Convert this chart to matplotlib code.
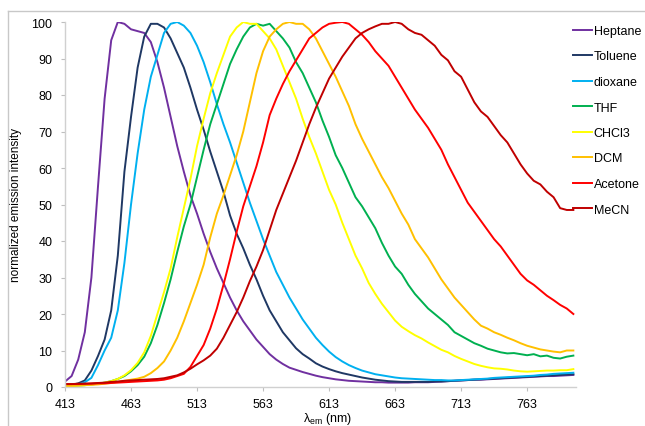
import numpy as np
import matplotlib
matplotlib.use("Agg")
import matplotlib.pyplot as plt
from matplotlib.lines import Line2D

plt.rcParams['font.family'] = ['Liberation Sans', 'DejaVu Sans']

# emission wavelength grid (nm), 413..798 every 5 nm
wl = np.arange(413, 799, 5)

heptane = [1.5, 3, 7.5, 15, 30, 55, 79, 95, 100, 99.5,
           98, 97.5, 97, 94.5, 89, 82, 74, 66, 59, 52.5,
           47.5, 42, 37, 32.5, 28.5, 24.5, 21, 18, 15.5, 13,
           11, 9, 7.5, 6.3, 5.3, 4.7, 4.1, 3.6, 3.1, 2.7,
           2.4, 2.1, 1.9, 1.7, 1.6, 1.5, 1.4, 1.3, 1.3, 1.2,
           1.2, 1.2, 1.2, 1.3, 1.3, 1.3, 1.4, 1.5, 1.6, 1.7,
           1.8, 1.9, 2.0, 2.0, 2.1, 2.2, 2.3, 2.4, 2.5, 2.6,
           2.7, 2.8, 2.9, 3.0, 3.0, 3.1, 3.2, 3.3]
toluene = [0.5, 0.6, 1.0, 1.8, 4.5, 8.5, 13, 21, 36, 59,
           74, 87.5, 96, 99.5, 99.5, 98.5, 95.5, 91.5, 87.5, 82,
           76, 70.5, 64.5, 59, 53.5, 47, 42, 38, 33.5, 29.5,
           25, 21, 18, 15, 12.8, 10.6, 9, 7.8, 6.5, 5.6,
           4.9, 4.3, 3.8, 3.4, 3.0, 2.6, 2.3, 2.0, 1.8, 1.6,
           1.5, 1.4, 1.4, 1.4, 1.4, 1.4, 1.5, 1.5, 1.6, 1.7,
           1.8, 1.9, 2.0, 2.1, 2.2, 2.3, 2.4, 2.5, 2.6, 2.7,
           2.8, 2.9, 3.0, 3.1, 3.2, 3.3, 3.4, 3.5]
dioxane = [0.5, 0.5, 0.7, 1.3, 2.5, 6, 10, 13.5, 21, 34,
           50, 64, 76, 85, 91, 97, 99.5, 100, 99, 97,
           93.5, 89, 83.5, 77.5, 72, 67, 61.5, 56, 50.5, 45.5,
           40.5, 36, 31.5, 28, 24.5, 21.5, 18.5, 16, 13.5, 11.5,
           9.7, 8.2, 7, 6, 5.2, 4.5, 4, 3.5, 3.2, 2.9,
           2.6, 2.4, 2.3, 2.2, 2.1, 2.0, 1.9, 1.9, 1.8, 1.8,
           1.9, 2.0, 2.1, 2.2, 2.3, 2.5, 2.6, 2.7, 2.8, 2.9,
           3.0, 3.1, 3.3, 3.4, 3.6, 3.7, 3.8, 3.9]
thf = [0.3, 0.3, 0.4, 0.5, 0.7, 0.9, 1.2, 1.6, 2.2, 3,
       4.3, 6, 8.3, 12, 17, 23, 29.5, 37, 44, 50,
       57.5, 65, 72, 77.5, 83, 88.5, 92.5, 96, 98.5, 99.5,
       99, 99.5, 97.5, 95.5, 93, 89, 86, 82, 78, 73,
       68.5, 63.5, 60, 56, 52, 49.5, 46.5, 43.5, 39.5, 36,
       33, 31, 28, 25.5, 23.5, 21.5, 20, 18.5, 17, 15,
       14, 13, 12, 11.3, 10.5, 10, 9.5, 9.2, 9.3, 9,
       8.7, 9, 8.4, 8.6, 8.0, 7.8, 8.3, 8.6]
chcl3 = [0.3, 0.3, 0.4, 0.5, 0.7, 0.9, 1.2, 1.6, 2.2, 3.2,
         4.6, 6.6, 9.5, 14, 20, 26, 32.5, 41, 49, 57,
         66, 73.5, 80.5, 86, 91, 96, 98.5, 100, 99.5, 99.5,
         97.5, 95.5, 92.5, 88, 83.5, 79, 73.5, 68.5, 64, 59,
         54, 50, 45, 40.5, 36, 32.5, 28.5, 25.5, 22.8, 20.5,
         18.2, 16.5, 15.3, 14.2, 13.3, 12.2, 11.2, 10.2, 9.5, 8.5,
         7.7, 7, 6.3, 5.8, 5.4, 5.1, 5, 4.8, 4.5, 4.3,
         4.2, 4.3, 4.4, 4.5, 4.5, 4.6, 4.6, 4.9]
dcm = [0.3, 0.3, 0.4, 0.5, 0.6, 0.7, 0.9, 1.1, 1.4, 1.7,
       2, 2.3, 2.8, 3.8, 5.2, 7, 10, 13.5, 18, 23,
       28, 33.5, 41, 47.5, 52.5, 58, 63.5, 70, 78, 86,
       92, 96, 98, 99.5, 100, 99.5, 99.5, 98, 95.5, 92,
       88.5, 85, 81, 77, 72, 68, 64.5, 61, 57.5, 54.5,
       51, 47.5, 44.5, 40.5, 38, 35.5, 32.5, 29.5, 27, 24.5,
       22.5, 20.5, 18.5, 16.8, 16, 15, 14.3, 13.5, 12.8, 12,
       11.3, 10.8, 10.3, 10, 9.7, 9.5, 10, 10]
acetone = [0.8, 0.8, 0.8, 0.9, 0.9, 1.0, 1.0, 1.1, 1.2, 1.3,
           1.4, 1.5, 1.6, 1.7, 1.8, 2.0, 2.4, 3, 3.6, 5.5,
           8.5, 11.5, 16, 21.5, 28, 35, 42.5, 49.5, 55, 60.5,
           67, 74.5, 79, 83, 86.5, 89.5, 92.5, 95.5, 97, 98.5,
           99.5, 99.8, 100, 99.5, 98, 96.5, 94.5, 92, 90, 88,
           85, 82, 79, 76, 73.5, 71, 68, 65, 61, 57.5,
           54, 50.5, 48, 45.5, 43, 40.5, 38.5, 36, 33.5, 31,
           29.2, 28, 26.5, 25, 23.8, 22.5, 21.5, 20]
mecn = [0.8, 0.8, 0.9, 0.9, 1.0, 1.1, 1.2, 1.4, 1.5, 1.7,
        1.8, 1.9, 2.0, 2.1, 2.2, 2.4, 2.8, 3.2, 4, 5,
        6.2, 7.3, 8.6, 10.5, 13.5, 17, 20.5, 24.5, 29, 33,
        37.5, 43, 48.5, 53, 57.5, 62, 67, 72, 76.5, 80.5,
        84.5, 87.5, 90.5, 93, 95.5, 97, 98, 98.8, 99.5, 99.5,
        100, 99.5, 98, 97, 96.5, 95, 93.5, 91, 89.5, 86.5,
        85, 81.5, 78, 75.5, 74, 71.5, 69, 67, 64, 61,
        58.5, 56.5, 55.5, 53.5, 52, 49, 48.5, 48.5]

labels = ['Heptane', 'Toluene', 'dioxane', 'THF', 'CHCl3', 'DCM', 'Acetone', 'MeCN']
series = [heptane, toluene, dioxane, thf, chcl3, dcm, acetone, mecn]
colors = ['#7030A0', '#1F3864', '#00B0F0', '#00B050', '#FFFF00', '#FFC000', '#FF0000', '#C00000']

xticks = [413, 463, 513, 563, 613, 663, 713, 763]

fig = plt.figure(figsize=(6.45, 4.27), dpi=100)
ax = fig.add_axes([65/645, 1-388/427, 511/645, 365/427])

for y, lab, c in zip(series, labels, colors):
    ax.plot(wl, y, color=c, lw=1.4, label=lab)

ax.set_xlim(413, 800)
ax.set_ylim(0, 100)
ax.set_xticks(xticks)
ax.set_yticks(range(0, 101, 10))
ax.tick_params(labelsize=9, length=3, width=0.8, color='#bfbfbf', pad=6)
ax.tick_params(axis='x', pad=5)
for s in ['top', 'right']:
    ax.spines[s].set_visible(False)
for s in ['left', 'bottom']:
    ax.spines[s].set_color('#d0d0d0')
    ax.spines[s].set_linewidth(1.0)

ax.set_ylabel('normalized emission intensity', fontsize=8.5)
ax.yaxis.set_label_coords(-0.084, 0.5)
ax.set_xlabel('λ$_{\\mathregular{em}}$ (nm)', fontsize=9)
ax.xaxis.set_label_coords(0.513, -0.086)
ax.xaxis.label.set_va('center')

ax.legend(loc='upper left', bbox_to_anchor=(573/645, 1-26/427),
          bbox_transform=fig.transFigure, frameon=False, fontsize=9,
          handlelength=1.5, handletextpad=0.15, labelspacing=1.08,
          borderpad=0, borderaxespad=0)

# outer chart border
fig.add_artist(Line2D([8/645, 8/645], [0, 1-12/427], color='#c8c8c8', lw=1.0))
fig.add_artist(Line2D([8/645, 1], [1-12/427, 1-12/427], color='#c8c8c8', lw=1.0))

fig.savefig('out.png', dpi=100)
